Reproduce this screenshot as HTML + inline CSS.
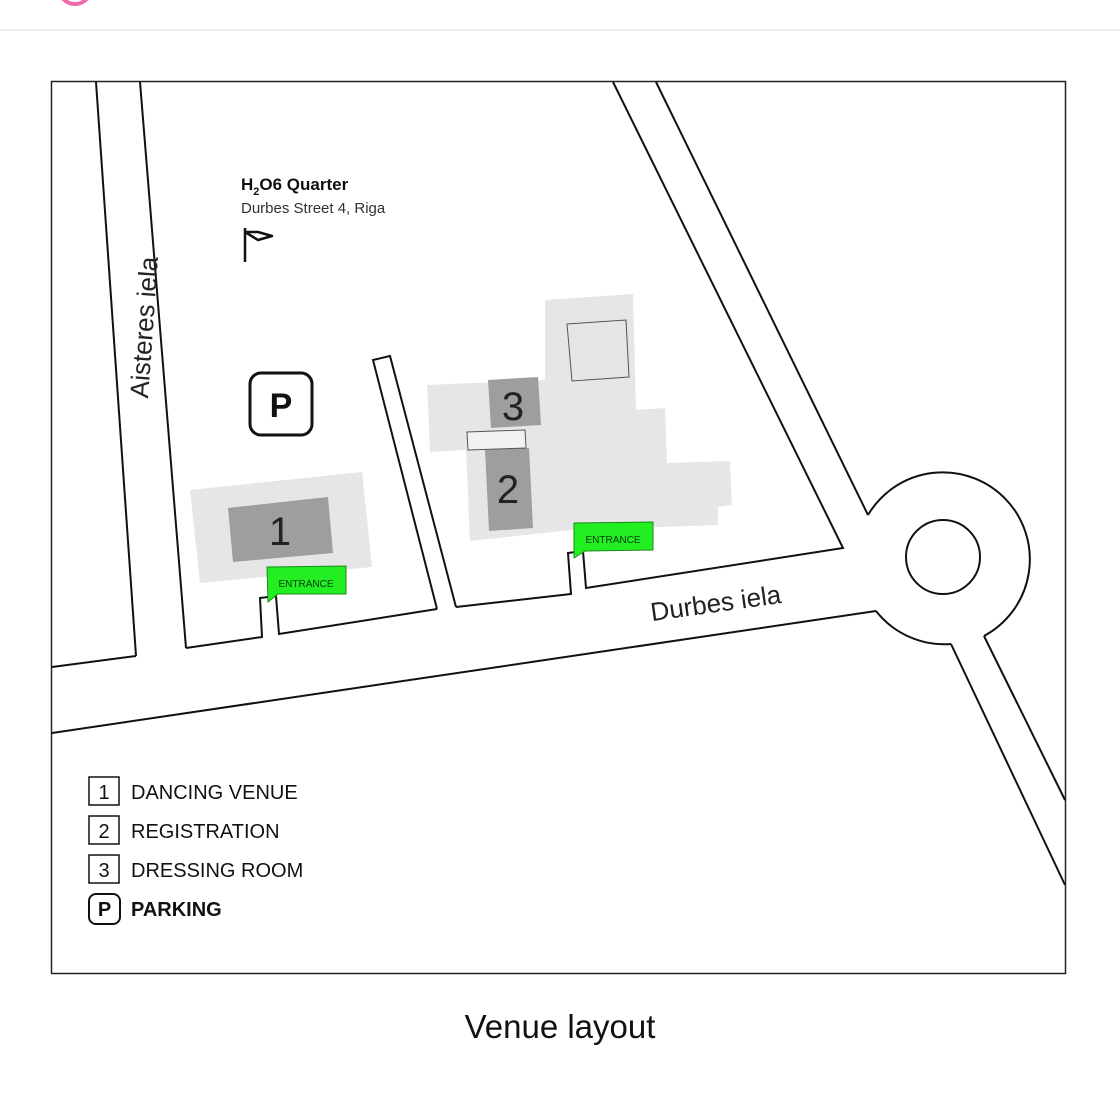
<!DOCTYPE html>
<html><head><meta charset="utf-8"><style>
html,body{margin:0;padding:0;background:#fff;width:1120px;height:1120px;overflow:hidden}
svg{display:block;font-family:"Liberation Sans",sans-serif}
</style></head><body>
<svg width="1120" height="1120" viewBox="0 0 1120 1120" xmlns="http://www.w3.org/2000/svg">
<circle cx="75" cy="-12" r="16" fill="none" stroke="#f06aa8" stroke-width="4"/>
<line x1="0" y1="30" x2="1120" y2="30" stroke="#eee" stroke-width="2"/>
<rect x="51.5" y="81.5" width="1014" height="892" fill="#fff" stroke="#222" stroke-width="1.5"/>
<g fill="none" stroke="#111" stroke-width="2">
<line x1="96" y1="82" x2="136" y2="656"/>
<polyline points="52,667 136,656"/>
<line x1="140" y1="82" x2="186" y2="648"/>
<polyline points="186,648 262,637 260,598 276,596 279,634 437,609"/>
<polyline points="437,609 373,360 390,356 456,607"/>
<polyline points="456,607 571,594 568,553 583,551 586,588 843,548 613,82"/>
<line x1="656" y1="82" x2="868" y2="515"/>
<line x1="52" y1="733" x2="876" y2="611"/>
<path d="M868,515 A87,87 0 1 1 984,636"/>
<path d="M951,644 A87,87 0 0 1 876,611"/>
<circle cx="943" cy="557" r="37"/>
<line x1="951" y1="644" x2="1065" y2="885"/>
<line x1="984" y1="636" x2="1065" y2="800"/>
</g>
<polygon points="190,490 362,472 372,567 200,583" fill="#e6e6e6"/>
<polygon points="228,508 328,497 333,553 233,562" fill="#9e9e9e"/>
<text x="280" y="545" font-size="40" text-anchor="middle" fill="#222">1</text>
<polygon points="545,300 633,294 636,410 665,408 667,463 730,461 732,505 718,507 718,525 572,530 470,541 466,450 430,452 427,385 545,380" fill="#e6e6e6"/>
<polygon points="567,324 626,320 629,377 572,381" fill="#e6e6e6" stroke="#555" stroke-width="1"/>
<polygon points="488,380 538,377 541,425 491,428" fill="#9e9e9e"/>
<text x="513" y="420" font-size="40" text-anchor="middle" fill="#222">3</text>
<polygon points="485,450 529,448 533,528 489,531" fill="#9e9e9e"/>
<text x="508" y="503" font-size="40" text-anchor="middle" fill="#222">2</text>
<polygon points="467,432 525,430 526,448 468,450" fill="#f2f2f2" stroke="#555" stroke-width="1"/>
<polygon points="267,567 346,566 346,594 278,594 268,602" fill="#22ee22" stroke="#1a8a1a" stroke-width="1"/>
<text x="306" y="587" font-size="10" text-anchor="middle" fill="#0a3a0a">ENTRANCE</text>
<polygon points="574,523 653,522 653,550 585,551 574,558" fill="#22ee22" stroke="#1a8a1a" stroke-width="1"/>
<text x="613" y="543" font-size="10" text-anchor="middle" fill="#0a3a0a">ENTRANCE</text>
<text transform="translate(153,328) rotate(-86)" font-size="26" text-anchor="middle" fill="#222">Aisteres iela</text>
<text transform="translate(717,612) rotate(-8)" font-size="26" text-anchor="middle" fill="#222">Durbes iela</text>
<rect x="250" y="373" width="62" height="62" rx="11" fill="#fff" stroke="#111" stroke-width="3"/>
<text x="281" y="417" font-size="34" font-weight="bold" text-anchor="middle" fill="#111">P</text>
<text x="241" y="190" font-size="17" font-weight="bold" fill="#111">H<tspan font-size="11" dy="5">2</tspan><tspan dy="-5">O6 Quarter</tspan></text>
<text x="241" y="213" font-size="15" fill="#333">Durbes Street 4, Riga</text>
<path d="M245,228 V262 M245,232 L258,232 L272,236 L258,240 Z" fill="none" stroke="#111" stroke-width="2.5" stroke-linejoin="round"/>
<g font-size="20" fill="#111">
<rect x="89" y="777" width="30" height="28" fill="none" stroke="#111" stroke-width="1.5"/>
<text x="104" y="799" text-anchor="middle">1</text><text x="131" y="799">DANCING VENUE</text>
<rect x="89" y="816" width="30" height="28" fill="none" stroke="#111" stroke-width="1.5"/>
<text x="104" y="838" text-anchor="middle">2</text><text x="131" y="838">REGISTRATION</text>
<rect x="89" y="855" width="30" height="28" fill="none" stroke="#111" stroke-width="1.5"/>
<text x="104" y="877" text-anchor="middle">3</text><text x="131" y="877">DRESSING ROOM</text>
<rect x="89" y="894" width="31" height="30" rx="7" fill="none" stroke="#111" stroke-width="2"/>
<text x="104.5" y="916" text-anchor="middle" font-weight="bold">P</text><text x="131" y="916" font-weight="bold">PARKING</text>
</g>
<text x="560" y="1038" font-size="33" text-anchor="middle" fill="#111">Venue layout</text>
</svg>
</body></html>
